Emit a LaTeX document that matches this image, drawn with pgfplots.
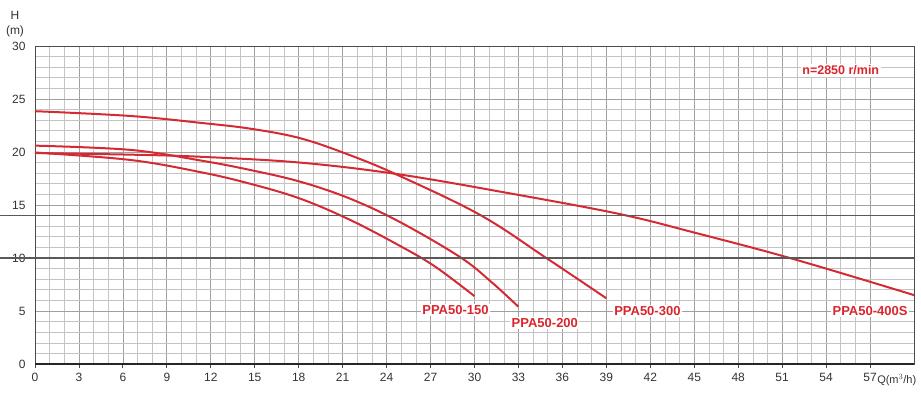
\documentclass[border=0pt]{standalone}
\usepackage{pgfplots}
\pgfplotsset{compat=1.18}
\usepackage{fontspec}
\setmainfont{Liberation Sans}
\definecolor{curve}{HTML}{D42A33}
\definecolor{lab}{HTML}{D9262E}
\definecolor{gridc}{HTML}{C4C4C4}
\definecolor{gridm}{HTML}{A0A0A0}
\definecolor{txt}{HTML}{333333}
\begin{document}
\begin{tikzpicture}
\begin{axis}[
  scale only axis,
  width=879pt, height=318pt,
  xmin=0, xmax=60, ymin=0, ymax=30,
  xtick={0,3,...,57},
  xticklabels={0,3,6,9,12,15,18,21,24,27,30,33,36,39,42,45,48,51,54,57},
  ytick={0,5,...,30},
  minor x tick num=2,
  minor y tick num=4,
  grid=both,
  minor grid style={draw=gridc, line width=0.6pt},
  major grid style={draw=gridm, line width=0.7pt},
  axis line style={draw=black!70, line width=0.8pt},
  tick align=outside,
  tick pos=left,
  xtick style={draw=black!70, line width=0.8pt},
  major tick length=4pt,
  minor tick length=0pt,
  ytick style={draw=none},
  ticklabel style={font=\fontsize{12}{14}\selectfont, text=txt},
  /pgf/number format/assume math mode=true,
  xticklabel style={yshift=-2pt},
  yticklabel style={xshift=-2pt},
  clip=false,
]
% PPA50-400S
\addplot[curve, line width=2pt, smooth, tension=0.6] coordinates {
 (0,19.9) (6.5,19.75) (11.3,19.55) (18.1,19.0) (24.8,17.9) (32.4,16.1) (39.9,14.15) (45,12.4) (51.7,9.93) (60,6.5)};
% PPA50-300
\addplot[curve, line width=2pt, smooth, tension=0.6] coordinates {
 (0,23.85) (6.5,23.4) (11.3,22.75) (14.7,22.2) (18.1,21.3) (21.5,19.7) (24.8,17.8) (30.4,14.05) (34.9,10.0) (39,6.2)};
% PPA50-200
\addplot[curve, line width=2pt, smooth, tension=0.6] coordinates {
 (0,20.6) (6.5,20.2) (11.3,19.2) (14.7,18.3) (18.1,17.2) (21.5,15.6) (24.9,13.4) (29,10.1) (31.1,7.8) (33,5.4)};
% PPA50-150
\addplot[curve, line width=2pt, smooth, tension=0.6] coordinates {
 (0,19.95) (6.5,19.25) (11.3,18.1) (14.7,17.0) (18.1,15.6) (21.5,13.6) (24.9,11.15) (27.3,9.2) (30,6.4)};
% dark horizontal lines
\draw[black!65, line width=1.1pt] (axis cs:0,14) ++(-35pt,0) -- (axis cs:60,14);
\draw[black!65, line width=1.1pt] (axis cs:0,10) ++(-35pt,0) -- (axis cs:60,10);
\draw[black!85, line width=1.4pt] (axis cs:0,0) -- (axis cs:60,0);
% labels
\begin{scope}[every node/.style={font=\fontsize{13}{15}\selectfont\bfseries, text=lab, fill=white, inner sep=1.5pt}]
\node at (axis cs:28.7,5.1) {PPA50-150};
\node at (axis cs:34.8,3.9) {PPA50-200};
\node at (axis cs:41.8,5.0) {PPA50-300};
\node at (axis cs:57.0,5.0) {PPA50-400S};
\node[font=\fontsize{12.5}{14}\selectfont\bfseries] at (axis cs:55.0,27.7) {n=2850 r/min};
\end{scope}
\node[anchor=base west, font=\fontsize{11}{13}\selectfont, text=txt, inner sep=0pt] at ([xshift=7pt,yshift=-19pt]axis cs:57,0) {Q(m$^{3}$/h)};
\node[font=\fontsize{12}{14}\selectfont, text=txt, inner sep=0pt] at ([xshift=-20pt,yshift=31pt]axis cs:0,30) {H};
\node[font=\fontsize{12}{14}\selectfont, text=txt, inner sep=0pt] at ([xshift=-20pt,yshift=15pt]axis cs:0,30) {(m)};
\coordinate (sw) at (rel axis cs:0,0);
\coordinate (ne) at (rel axis cs:1,1);
\end{axis}
\pgfresetboundingbox
\path[use as bounding box] ([xshift=-35pt,yshift=-35pt]sw) rectangle ([xshift=7pt,yshift=46pt]ne);
\end{tikzpicture}
\end{document}
